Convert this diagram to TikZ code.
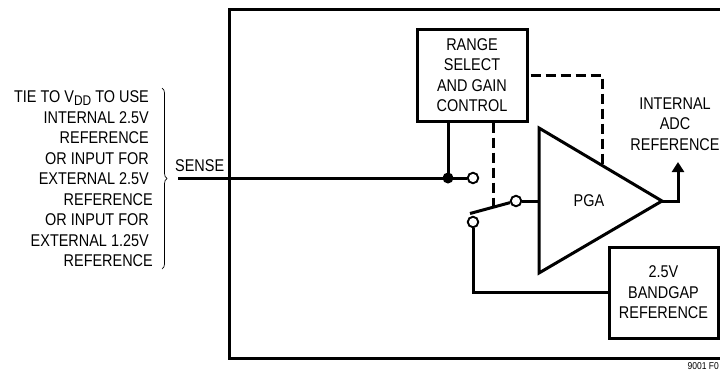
\documentclass[tikz,border=0pt]{standalone}
\usepackage{fontspec}
\setmainfont[FakeStretch=0.85]{Liberation Sans}
\usetikzlibrary{arrows.meta,decorations.pathreplacing}
\tikzset{
	wire/.style={line width=3pt},
	ctrl/.style={line width=3pt, dash pattern=on 10pt off 5pt},
	block/.style={draw, line width=3pt, align=center, inner sep=0pt},
	contact/.style={circle, draw, line width=1.9pt, fill=white, inner sep=0pt, minimum size=10.5pt},
	lab/.style={align=center, inner sep=0pt}
}
\begin{document}
\begin{tikzpicture}[x=1pt, y=-1pt, font=\fontsize{17}{20.5}\selectfont, line join=miter, >={Triangle[length=10pt,width=12pt]}]
	\useasboundingbox (0,0) rectangle (720,370);
	\coordinate (chipbr) at (720,358);
	\coordinate (chiptr) at (720,9);
	\coordinate (chiptl) at (229,9);
	\coordinate (chipbl) at (229,358);
	\draw[line width=3pt] (chiptr) -- (chiptl) -- (chipbl) -- (chipbr);
	% blocks
	\node[block, minimum width=110pt, minimum height=92pt] (range) at (472,75) {RANGE\\SELECT\\AND GAIN\\CONTROL};
	\node[block, minimum width=109pt, minimum height=91pt] (bandgap) at (663.5,292.5) {2.5V\\BANDGAP\\REFERENCE};
	% amplifier
	\coordinate (pgatop) at (539,128);
	\coordinate (pgabot) at (539,273);
	\coordinate (pgaout) at (662,201);
	\coordinate (pgain) at (539,201);
	\draw[wire] (pgatop) -- (pgaout) -- (pgabot) -- cycle;
	\node[lab] (pga) at (589,201) {PGA};
	% sense input
	\coordinate (sensein) at (178,178);
	\coordinate (junction) at (448,178);
	\node[contact] (top) at (473,178) {};
	\node[contact] (bottom) at (473,222) {};
	\node[contact] (common) at (516,201) {};
	\coordinate (armend) at (470,213.5);
	\draw[wire] (sensein) -- (top);
	\draw[wire] (range.south -| junction) -- (junction);
	\fill (junction) circle (5.5pt);
	\draw[wire] (armend) -- (common);
	\draw[wire] (common) -- (pgain);
	\draw[wire] (bottom) |- (bandgap.west);
	% control lines
	\coordinate (armctrl) at (493,207);
	\coordinate (gainturn) at (602,75);
	\coordinate (gainend) at (602,165);
	\draw[ctrl] (range.south -| armctrl) -- (armctrl);
	\draw[ctrl] (range.east |- gainturn) ++(2,0) -- (gainturn) -- (gainend);
	% output
	\coordinate (outturn) at (678,201);
	\coordinate (outend) at (678,162);
	\draw[wire, ->] (pgaout) -- (outturn) -- (outend);
	\node[lab] (adc) at (675,124) {INTERNAL\\ADC\\REFERENCE};
	\node[lab, anchor=west] (sense) at (175,166) {SENSE};
	\node[lab, align=right, anchor=east] (note) at (153,179) {TIE TO V\raisebox{-3pt}{\fontsize{14}{14}\selectfont DD} TO USE\rule{4pt}{0pt}\\
		INTERNAL 2.5V\rule{4pt}{0pt}\\
		REFERENCE\rule{4pt}{0pt}\\
		OR INPUT FOR\rule{4pt}{0pt}\\
		EXTERNAL 2.5V\rule{4pt}{0pt}\\
		REFERENCE\\
		OR INPUT FOR\rule{4pt}{0pt}\\
		EXTERNAL 1.25V\rule{4pt}{0pt}\\
		REFERENCE};
	\coordinate (bracetop) at (162,88);
	\coordinate (bracebot) at (162,269);
	\draw[line width=0.7pt, decorate, decoration={brace, amplitude=5pt}] (bracetop) -- (bracebot);
	\node[inner sep=0pt, anchor=base east, font=\fontsize{10}{10}\selectfont] (code) at (719,369) {9001 F0};
\end{tikzpicture}
\end{document}
